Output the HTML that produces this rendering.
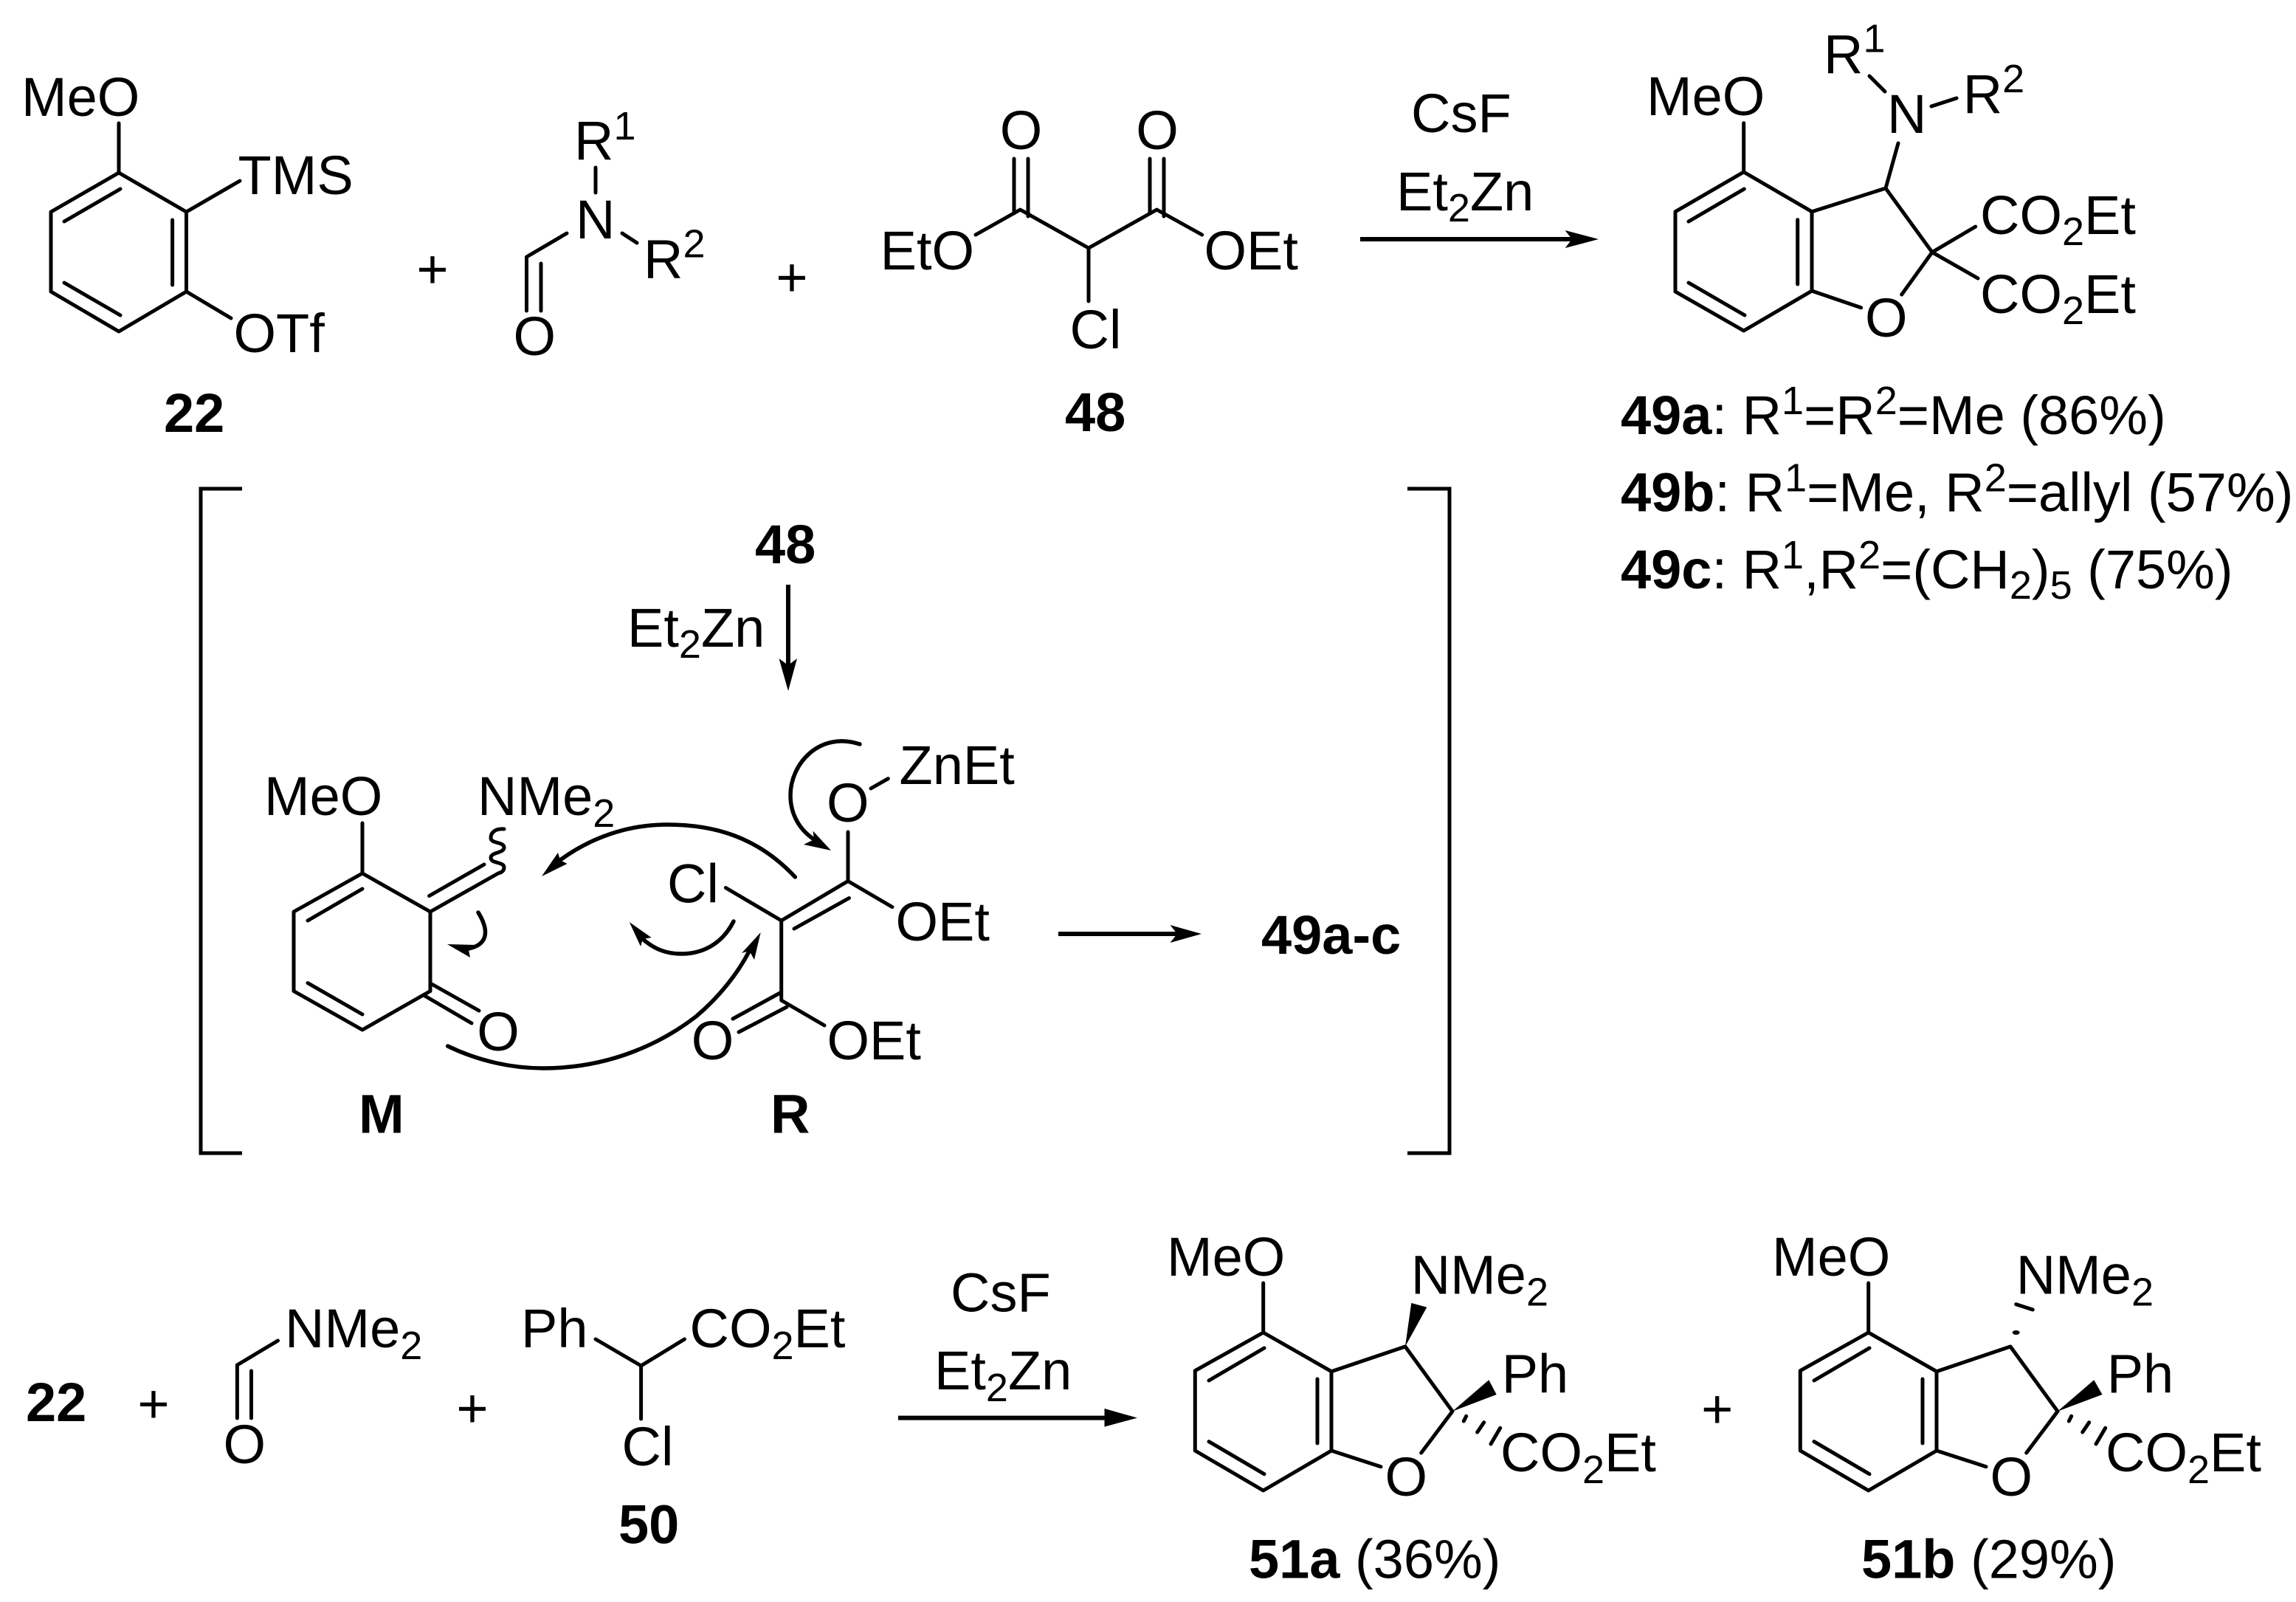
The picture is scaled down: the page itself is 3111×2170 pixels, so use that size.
<!DOCTYPE html>
<html>
<head>
<meta charset="utf-8">
<style>
html,body{margin:0;padding:0;background:#fff;width:3111px;height:2170px;overflow:hidden}
svg{display:block}
text{font-family:"Liberation Sans",Arial,sans-serif;font-size:74px;fill:#000}
.b{font-weight:bold}
.s{font-size:54px}
.m{text-anchor:middle}
.l{fill:none;stroke:#000;stroke-width:5;stroke-linecap:round;stroke-linejoin:round}
.a{fill:none;stroke:#000;stroke-width:6;stroke-linecap:butt}
.c{fill:none;stroke:#000;stroke-width:5.5;stroke-linecap:round}
.f{fill:#000;stroke:none}
</style>
</head>
<body>
<svg xmlns="http://www.w3.org/2000/svg" width="3111" height="2170" viewBox="0 0 3111 2170">
<rect width="3111" height="2170" fill="#fff"/>

<!-- 22 -->
<path class="l" d="M161,234L252.5,287V395L161,449L69,395V287ZM163,256L87,300M233.6,298V386M87,383L163,427M161,167V234M252.5,287L325,245M252.5,395L313,431"/>
<text x="29" y="157">MeO</text>
<text x="322.5" y="263">TMS</text>
<text x="316.5" y="477">OTf</text>
<text class="b" x="222" y="585">22</text>
<text class="m" x="586" y="390">+</text>

<!-- amide -->
<path class="l" d="M807,227V261M768,316L713.5,348V421M733,357V421M843,316L863,329"/>
<text x="778" y="216">R<tspan class="s" dy="-27">1</tspan></text>
<text x="780" y="323">N</text>
<text x="695.5" y="481">O</text>
<text x="872" y="376.5">R<tspan class="s" dy="-28">2</tspan></text>
<text class="m" x="1073" y="401">+</text>

<!-- 48 -->
<path class="l" d="M1322,318L1382.4,284L1475,336L1567.4,284L1628.7,318M1475,336V408M1374,215V289M1393,215V293M1558,215V289M1577,215V293"/>
<text class="m" x="1383.5" y="202">O</text>
<text class="m" x="1568" y="202">O</text>
<text x="1192.6" y="365">EtO</text>
<text x="1631.5" y="365">OEt</text>
<text x="1449.5" y="472">Cl</text>
<text class="b" x="1443" y="584">48</text>

<!-- top arrow -->
<text x="1912" y="179">CsF</text>
<text x="1892" y="285">Et<tspan class="s" dy="15">2</tspan><tspan dy="-15">Zn</tspan></text>
<path class="a" d="M1843,324H2135"/>
<path class="f" d="M2166,324L2120.6,312L2130,324L2120.6,336Z"/>

<!-- 49 -->
<path class="l" d="M2362.7,233L2455,286.7V394L2362.7,448L2270,395V286.7ZM2363.3,256L2288,300M2435.7,297.7V385M2288,383L2364,427M2362.7,166.7V233M2455,286.7L2555,255L2618,341.7L2576.7,399M2455,394L2521.7,416.7M2618,341.7L2676.7,307M2618,341.7L2680,377M2572,194L2555,255M2533,103L2554,124M2617,144L2651,133"/>
<text x="2231" y="156">MeO</text>
<text x="2527" y="456">O</text>
<text x="2683" y="317">CO<tspan class="s" dy="15">2</tspan><tspan dy="-15">Et</tspan></text>
<text x="2683" y="424">CO<tspan class="s" dy="15">2</tspan><tspan dy="-15">Et</tspan></text>
<text x="2557" y="180">N</text>
<text x="2471" y="99">R<tspan class="s" dy="-28.5">1</tspan></text>
<text x="2659.7" y="153">R<tspan class="s" dy="-28">2</tspan></text>
<text x="2196" y="588"><tspan class="b">49a</tspan>: R<tspan class="s" dy="-27">1</tspan><tspan dy="27">=R</tspan><tspan class="s" dy="-27">2</tspan><tspan dy="27">=Me (86%)</tspan></text>
<text x="2196" y="692.7"><tspan class="b">49b</tspan>: R<tspan class="s" dy="-27">1</tspan><tspan dy="27">=Me, R</tspan><tspan class="s" dy="-27">2</tspan><tspan dy="27">=allyl (57%)</tspan></text>
<text x="2196" y="797"><tspan class="b">49c</tspan>: R<tspan class="s" dy="-27">1</tspan><tspan dy="27">,R</tspan><tspan class="s" dy="-27">2</tspan><tspan dy="27">=(CH</tspan><tspan class="s" dy="14">2</tspan><tspan dy="-14">)</tspan><tspan class="s" dy="14">5</tspan><tspan dy="-14"> (75%)</tspan></text>

<!-- brackets -->
<path fill="none" stroke="#000" stroke-width="5" d="M328,662H272V1562H328M1907,662H1964V1562H1907"/>

<!-- mechanism -->
<text class="b" x="1023" y="763">48</text>
<path class="a" d="M1068,792V905"/>
<path class="f" d="M1068,936L1055.5,892L1068,901L1080,892Z"/>
<text x="850" y="876">Et<tspan class="s" dy="15">2</tspan><tspan dy="-15">Zn</tspan></text>

<path class="l" d="M491,1183L583,1235V1342.5L491,1395L398,1342.5V1235ZM491,1204L417,1247M417,1331.6L491,1374M491,1115V1183M583,1235L675,1183M581.6,1213.5L656,1171M585,1333L649,1369M574,1348L639,1386"/>
<path class="l" d="M683,1123C672,1122 665,1127 665,1135C665,1143 683,1140 683,1148C683,1156 665,1154 665,1162C665,1170 683,1167 683,1175C683,1180 679,1182 675,1183"/>
<text x="358" y="1104">MeO</text>
<text x="647" y="1104">NMe<tspan class="s" dy="16">2</tspan></text>
<text class="m" x="675" y="1423">O</text>
<text class="b" x="486" y="1534.6">M</text>
<text class="b" x="1044" y="1534.6">R</text>

<path class="l" d="M983.4,1202.6L1058.7,1247L1149,1193.5L1209,1228.6M1076,1258L1150.5,1216.5M1149,1127V1193.5M1180,1068L1203.4,1054.7M1058.7,1247V1355L1117,1389M1058.7,1344L993,1380M1066,1364L1001,1398"/>
<text x="904" y="1222.6">Cl</text>
<text x="1120" y="1113">O</text>
<text x="1218.5" y="1062">ZnEt</text>
<text x="1213.5" y="1274">OEt</text>
<text class="m" x="965.5" y="1435">O</text>
<text x="1120.5" y="1435">OEt</text>

<!-- curved arrows -->
<path class="c" d="M1165,1008C1110,990 1071,1035 1071,1077C1071,1105 1085,1125 1103,1137"/>
<path class="f" d="M1126,1152L1101.6,1125.6L1103,1137L1089,1144Z"/>
<path class="c" d="M1077.4,1188C1025,1132 965,1117 904,1117C850,1117 800,1135 759,1165"/>
<path class="f" d="M734,1187L756,1155L759,1165L768.6,1170Z"/>
<path class="c" d="M648,1236C664,1262 660,1280 634.6,1285"/>
<path class="f" d="M606,1279L645,1280L634.6,1285L637,1297Z"/>
<path class="c" d="M994,1248C978,1280 950,1292 923.5,1292C900,1292 885,1284 870.8,1272"/>
<path class="f" d="M852.8,1249L882.6,1270L870.8,1272L868,1282Z"/>
<path class="c" d="M606.7,1417C650,1438 695,1447 736,1447C830,1447 900,1410 943,1377C975,1350 1000,1318 1015.4,1288"/>
<path class="f" d="M1030.7,1263L1005,1291L1015.4,1288L1022,1300Z"/>

<path class="a" d="M1434,1265H1595"/>
<path class="f" d="M1628,1265L1585.5,1253L1595,1265L1585.5,1277Z"/>
<text class="b" x="1709" y="1292">49a-c</text>

<!-- bottom row -->
<text class="b" x="35" y="1925">22</text>
<text class="m" x="208" y="1927">+</text>
<path class="l" d="M376.5,1816L321.4,1849V1921M340.5,1857V1921"/>
<text x="302.5" y="1982">O</text>
<text x="386" y="1825">NMe<tspan class="s" dy="16">2</tspan></text>
<text class="m" x="640" y="1933">+</text>
<path class="l" d="M807,1814L868.6,1850L927.5,1814M868.6,1850V1922"/>
<text x="706" y="1825">Ph</text>
<text x="934.5" y="1825">CO<tspan class="s" dy="16">2</tspan><tspan dy="-16">Et</tspan></text>
<text x="842.5" y="1985">Cl</text>
<text class="b" x="838" y="2090.5">50</text>

<text x="1288" y="1776.7">CsF</text>
<text x="1266" y="1882">Et<tspan class="s" dy="16">2</tspan><tspan dy="-16">Zn</tspan></text>
<path class="a" d="M1217,1920.6H1505"/>
<path class="f" d="M1541,1920.6L1496.5,1908V1932.6Z"/>

<!-- 51a -->
<path class="l" d="M1711.7,1805L1804,1857.7V1965L1711.7,2019L1619.3,1965V1856.7ZM1713,1826L1638,1870M1785,1868V1955M1638,1952.7L1713,1996.7M1711.7,1738V1805M1804,1857.7L1904,1824L1968,1911.7L1925.7,1968M1804,1965L1871,1986.7M1986.7,1918.3L1983.3,1925M2010.7,1926.7L2001.7,1940M2032.7,1934.3L2020,1956"/>
<path class="f" d="M1904,1824L1912.3,1765L1933.3,1770.7Z"/>
<path class="f" d="M1968,1911.7L2017.3,1869.3L2027.7,1889Z"/>
<text x="1581" y="1728">MeO</text>
<text x="1911.7" y="1752.3">NMe<tspan class="s" dy="16">2</tspan></text>
<text x="2034.7" y="1886.7">Ph</text>
<text x="1876.5" y="2026">O</text>
<text x="2033" y="1993">CO<tspan class="s" dy="16">2</tspan><tspan dy="-16">Et</tspan></text>
<text x="1692" y="2137.6"><tspan class="b">51a</tspan> (36%)</text>
<text class="m" x="2326.7" y="1934">+</text>

<!-- 51b -->
<path class="l" d="M2531.7,1805L2624,1857.7V1965L2531.7,2019L2439.3,1965V1856.7ZM2533,1826L2458,1870M2605,1868V1955M2458,1952.7L2533,1996.7M2531.7,1738V1805M2624,1857.7L2724,1824L2788,1911.7L2745.7,1968M2624,1965L2691,1986.7M2806.7,1918.3L2803.3,1925M2830.7,1926.7L2821.7,1940M2852.7,1934.3L2840,1956M2731.7,1766.7L2754.3,1774"/>
<ellipse class="f" cx="2731.7" cy="1805" rx="5" ry="3"/>
<path class="f" d="M2788,1911.7L2837.3,1869.3L2848.5,1889Z"/>
<text x="2401" y="1728">MeO</text>
<text x="2731.7" y="1752.3">NMe<tspan class="s" dy="16">2</tspan></text>
<text x="2854.7" y="1886.7">Ph</text>
<text x="2696.5" y="2026">O</text>
<text x="2853" y="1993">CO<tspan class="s" dy="16">2</tspan><tspan dy="-16">Et</tspan></text>
<text x="2522" y="2137.6"><tspan class="b">51b</tspan> (29%)</text>
</svg>
</body>
</html>
